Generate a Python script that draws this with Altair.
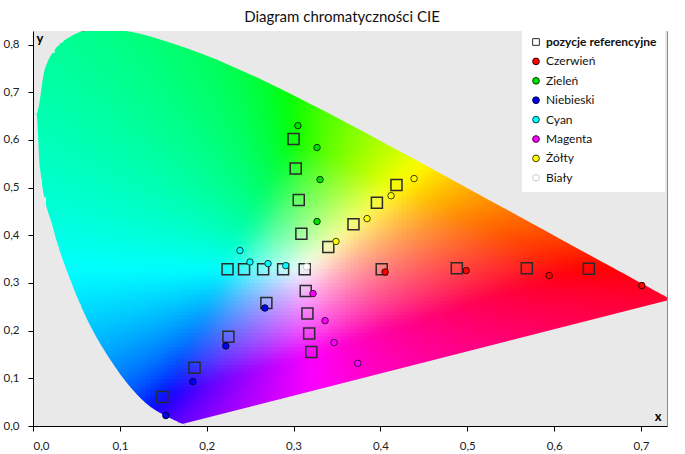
import altair as alt
import numpy as np
import pandas as pd

# CIE 1931 2-degree spectral locus, 380-700 nm in 5 nm steps
LOCUS_X = [0.1741, 0.1740, 0.1738, 0.1736, 0.1733, 0.1730, 0.1726, 0.1721, 0.1714, 0.1703,
           0.1689, 0.1669, 0.1644, 0.1611, 0.1566, 0.1510, 0.1440, 0.1355, 0.1241, 0.1096,
           0.0913, 0.0687, 0.0454, 0.0235, 0.0082, 0.0039, 0.0139, 0.0389, 0.0743, 0.1142,
           0.1547, 0.1929, 0.2296, 0.2658, 0.3016, 0.3373, 0.3731, 0.4087, 0.4441, 0.4788,
           0.5125, 0.5448, 0.5752, 0.6029, 0.6270, 0.6482, 0.6658, 0.6801, 0.6915, 0.7006,
           0.7079, 0.7140, 0.7190, 0.7230, 0.7260, 0.7283, 0.7300, 0.7311, 0.7320, 0.7327,
           0.7334, 0.7340, 0.7344, 0.7346, 0.7347]
LOCUS_Y = [0.0050, 0.0050, 0.0049, 0.0049, 0.0048, 0.0048, 0.0048, 0.0048, 0.0051, 0.0058,
           0.0069, 0.0086, 0.0109, 0.0138, 0.0177, 0.0227, 0.0297, 0.0399, 0.0578, 0.0868,
           0.1327, 0.2007, 0.2950, 0.4127, 0.5384, 0.6548, 0.7502, 0.8120, 0.8338, 0.8262,
           0.8059, 0.7816, 0.7543, 0.7243, 0.6923, 0.6589, 0.6245, 0.5896, 0.5547, 0.5202,
           0.4866, 0.4544, 0.4242, 0.3965, 0.3725, 0.3514, 0.3340, 0.3197, 0.3083, 0.2993,
           0.2920, 0.2859, 0.2809, 0.2770, 0.2740, 0.2717, 0.2700, 0.2689, 0.2680, 0.2673,
           0.2666, 0.2660, 0.2656, 0.2654, 0.2653]
LEFTMOST = 25  # index of 505 nm, the left tip of the horseshoe

# reference (target) chromaticities
REF_X = [0.4015, 0.488, 0.5686, 0.640,
         0.300, 0.3025, 0.306, 0.309,
         0.149, 0.186, 0.225, 0.2687,
         0.224, 0.243, 0.265, 0.288,
         0.3205, 0.318, 0.316, 0.314,
         0.4185, 0.396, 0.369, 0.340,
         0.3128]
REF_Y = [0.329, 0.331, 0.331, 0.330,
         0.602, 0.540, 0.474, 0.403,
         0.061, 0.122, 0.187, 0.258,
         0.329, 0.329, 0.329, 0.329,
         0.155, 0.194, 0.236, 0.283,
         0.5055, 0.468, 0.423, 0.3755,
         0.329]

# measured chromaticities
RED_X, RED_Y = [0.4054, 0.4987, 0.5943, 0.701], [0.323, 0.326, 0.3154, 0.2945]
GREEN_X, GREEN_Y = [0.305, 0.327, 0.3305, 0.327], [0.630, 0.584, 0.517, 0.429]
BLUE_X, BLUE_Y = [0.153, 0.184, 0.222, 0.267], [0.022, 0.093, 0.168, 0.2475]
CYAN_X, CYAN_Y = [0.2383, 0.2498, 0.2706, 0.291], [0.368, 0.344, 0.3406, 0.3364]
MAGENTA_X, MAGENTA_Y = [0.3224, 0.3363, 0.3466, 0.374], [0.2777, 0.221, 0.175, 0.1315]
YELLOW_X, YELLOW_Y = [0.4388, 0.4123, 0.3846, 0.3489], [0.519, 0.483, 0.435, 0.387]
WHITE_X, WHITE_Y = [0.3151], [0.334]

SERIES = ["pozycje referencyjne", "Czerwień", "Zieleń", "Niebieski",
          "Cyan", "Magenta", "Żółty", "Biały"]
FILLS = ["transparent", "#ff0000", "#00e000", "#0000ee", "#00ffff", "#ff00ff", "#ffff00", "#ffffff"]
STROKES = ["#2b2b2b", "#3a0000", "#003a00", "#00003a", "#004040", "#400040", "#404000", "#c8c8c8"]
SHAPES = ["square"] + ["circle"] * 7

X_TICKS = [0.0, 0.1, 0.2, 0.3, 0.4, 0.5, 0.6, 0.7]
Y_TICKS = [0.0, 0.1, 0.2, 0.3, 0.4, 0.5, 0.6, 0.7, 0.8]
X_MAX, Y_MAX = 0.73, 0.8285
BG = "#e9e9e9"
FONT = "Lato"

# ---- chromaticity colour field ----
poly = np.column_stack([LOCUS_X, LOCUS_Y])


def inside(px, py):
    res = np.zeros(px.shape, dtype=bool)
    n = len(poly)
    for i in range(n):
        x1, y1 = poly[i]
        x2, y2 = poly[(i + 1) % n]
        cond = (y1 > py) != (y2 > py)
        xc = x1 + (py - y1) * (x2 - x1) / (y2 - y1 + 1e-12)
        res ^= cond & (px < xc)
    return res


def xy_to_rgb(cx, cy):
    """Chromaticity -> display sRGB (0..1), desaturated towards white when out of gamut."""
    X = cx / cy
    Z = np.maximum(1 - cx - cy, 0) / cy
    M = np.array([[3.2406, -1.5372, -0.4986],
                  [-0.9689, 1.8758, 0.0415],
                  [0.0557, -0.2040, 1.0570]])
    rgb = M @ np.vstack([X, np.ones_like(X), Z])
    rgb = rgb - np.minimum(rgb.min(axis=0), 0)
    rgb = np.power(rgb / rgb.max(axis=0), 1.5)  # a little extra saturation
    return np.where(rgb <= 0.0031308, 12.92 * rgb, 1.055 * np.power(rgb, 1 / 2.4) - 0.055)


def smooth(img, sx, sy):
    """Separable gaussian smoothing of a (3, ny, nx) image."""
    def kern(s):
        r = int(3 * s) + 1
        k = np.exp(-0.5 * (np.arange(-r, r + 1) / s) ** 2)
        return k / k.sum(), r
    kx, rx = kern(sx)
    ky, ry = kern(sy)
    pad = np.pad(img, ((0, 0), (0, 0), (rx, rx)), mode="edge")
    img = sum(kx[i] * pad[:, :, i:i + img.shape[2]] for i in range(len(kx)))
    pad = np.pad(img, ((0, 0), (ry, ry), (0, 0)), mode="edge")
    return sum(ky[i] * pad[:, i:i + img.shape[1], :] for i in range(len(ky)))


STEP_X, STEP_Y = 0.005, 0.0075
xs = np.arange(0, 0.735, STEP_X)
ys = np.arange(0, 0.84, STEP_Y)
gx, gy = np.meshgrid(xs, ys)
cx, cy = gx + STEP_X / 2, np.maximum(gy + STEP_Y / 2, 0.004)
img = xy_to_rgb(cx.ravel(), cy.ravel()).reshape(3, *gx.shape)
img = smooth(img, 0.012 / STEP_X, 0.012 / STEP_Y)

keep = np.zeros(gx.shape, dtype=bool)
for ox in (0, 0.5, 1):
    for oy in (0, 0.5, 1):
        keep |= inside(gx + ox * STEP_X, gy + oy * STEP_Y)
cols = np.clip(np.round(img[:, keep] * 255), 0, 255).astype(int)
field = pd.DataFrame({
    "x": gx[keep], "y": gy[keep],
    "x2": gx[keep] + STEP_X * 1.25, "y2": gy[keep] + STEP_Y * 1.3,
    "rgb": ["#%02x%02x%02x" % tuple(c) for c in cols.T],
})

# grey masks outside the locus: above the curve, below the blue side, below the purple line
upper = pd.DataFrame({"x": [0.0] + LOCUS_X[LEFTMOST:],
                      "y": [LOCUS_Y[LEFTMOST]] + LOCUS_Y[LEFTMOST:],
                      "y2": Y_MAX})
lower = pd.DataFrame({"x": [0.0] + LOCUS_X[LEFTMOST::-1],
                      "y": [LOCUS_Y[LEFTMOST]] + LOCUS_Y[LEFTMOST::-1],
                      "y2": 0.0})
purple = pd.DataFrame({"x": [LOCUS_X[0], LOCUS_X[-1]],
                       "y": [LOCUS_Y[0], LOCUS_Y[-1]],
                       "y2": 0.0})

# ---- points ----
rows = [("pozycje referencyjne", REF_X, REF_Y), ("Czerwień", RED_X, RED_Y),
        ("Zieleń", GREEN_X, GREEN_Y), ("Niebieski", BLUE_X, BLUE_Y),
        ("Cyan", CYAN_X, CYAN_Y), ("Magenta", MAGENTA_X, MAGENTA_Y),
        ("Żółty", YELLOW_X, YELLOW_Y), ("Biały", WHITE_X, WHITE_Y)]
points = pd.DataFrame([{"series": s, "x": x, "y": y}
                       for s, xs_, ys_ in rows for x, y in zip(xs_, ys_)])

label_expr = "replace(format(datum.value, '.1f'), '.', ',')"
x_scale = alt.Scale(domain=[0, X_MAX], nice=False, zero=False)
y_scale = alt.Scale(domain=[0, Y_MAX], nice=False, zero=False)

x_axis = alt.Axis(values=X_TICKS, labelExpr=label_expr, title="x", titleX=628, titleY=-6,
                  titleAlign="right", titleBaseline="alphabetic", titleAngle=0, zindex=2,
                  labelPadding=9)
y_axis = alt.Axis(values=Y_TICKS, labelExpr=label_expr, title="y", titleX=3, titleY=11,
                  titleAlign="left", titleBaseline="alphabetic", titleAngle=0, zindex=2,
                  labelPadding=9)

legend = alt.Legend(title=None, orient="none", legendX=489, legendY=-3, fillColor="white",
                    padding=8, symbolSize=45, symbolStrokeWidth=1, labelFont=FONT,
                    labelFontSize=12, labelColor="#111111", rowPadding=7.4, labelOffset=4,
                    labelFontWeight=alt.ExprRef(
                        expr="datum.label === 'pozycje referencyjne' ? 'bold' : 'normal'"))

series_enc = dict(
    fill=alt.Fill("series:N", scale=alt.Scale(domain=SERIES, range=FILLS), legend=legend),
    stroke=alt.Stroke("series:N", scale=alt.Scale(domain=SERIES, range=STROKES), legend=legend),
    shape=alt.Shape("series:N", scale=alt.Scale(domain=SERIES, range=SHAPES), legend=legend),
)

colour_field = alt.Chart(field).mark_rect(clip=True).encode(
    x=alt.X("x:Q", scale=x_scale, axis=x_axis),
    x2="x2:Q",
    y=alt.Y("y:Q", scale=y_scale, axis=y_axis),
    y2="y2:Q",
    color=alt.Color("rgb:N", scale=None),
)


def mask(df, interp):
    return alt.Chart(df).mark_area(color=BG, clip=True, interpolate=interp).encode(
        x=alt.X("x:Q", scale=x_scale), y=alt.Y("y:Q", scale=y_scale), y2="y2:Q")


squares = alt.Chart(points).transform_filter(
    alt.datum.series == "pozycje referencyjne"
).mark_point(size=121, strokeWidth=1.5, filled=False, opacity=1).encode(
    x=alt.X("x:Q", scale=x_scale), y=alt.Y("y:Q", scale=y_scale), **series_enc)

circles = alt.Chart(points).transform_filter(
    alt.datum.series != "pozycje referencyjne"
).mark_point(size=42, strokeWidth=1, filled=False, opacity=1, fillOpacity=1).encode(
    x=alt.X("x:Q", scale=x_scale), y=alt.Y("y:Q", scale=y_scale), **series_enc)

chart = alt.layer(
    colour_field, mask(upper, "monotone"), mask(lower, "monotone"), mask(purple, "linear"),
    squares, circles,
).properties(
    width=634, height=395,
    autosize=alt.AutoSizeParams(type="none"),
    padding={"left": 33, "top": 31, "right": 18, "bottom": 28},
    title=alt.Title("Diagram chromatyczności CIE", font=FONT, fontSize=15, fontWeight="normal",
                    color="#111111", anchor="middle", dx=-8, offset=3),
).configure_view(
    fill=BG, stroke="#8a8a8a", strokeWidth=1,
).configure_axis(
    grid=False, domainColor="#000000", domainWidth=1, tickColor="#000000", tickSize=5,
    labelFont=FONT, labelFontSize=11.5, labelColor="#222222",
    titleFont=FONT, titleFontSize=13, titleFontWeight="bold", titleColor="#000000",
)

chart.save("out.html", embed_options={"renderer": "svg", "actions": False})
